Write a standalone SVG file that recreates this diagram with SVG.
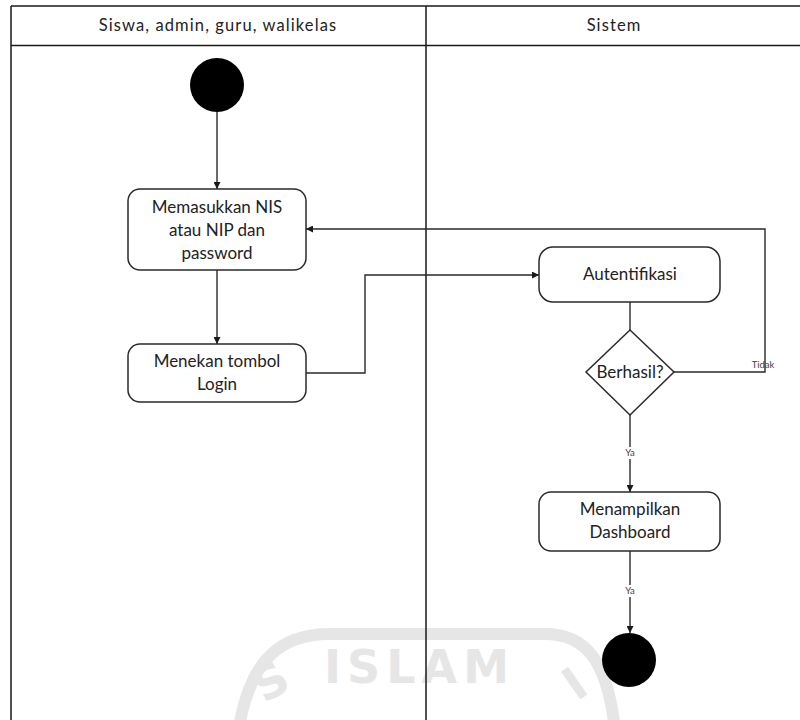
<svg xmlns="http://www.w3.org/2000/svg" width="800" height="720" viewBox="0 0 800 720">
<style>
  .lane { fill: none; stroke: #1a1a1a; stroke-width: 1.5; }
  .node { fill: #ffffff; stroke: #2a2a2a; stroke-width: 1.5; }
  .dot { fill: #000000; }
  .edge { fill: none; stroke: #2a2a2a; stroke-width: 1.4; }
  .t { font-family: Lato, "Open Sans", sans-serif; font-size: 17px; fill: #222; text-anchor: middle; }
  .h { font-family: Lato, "Open Sans", sans-serif; font-size: 16.5px; letter-spacing: 1.1px; fill: #222; text-anchor: middle; }
  .lbl { font-family: Lato, "Open Sans", sans-serif; font-size: 9.5px; fill: #444; text-anchor: middle; }
  .wm { fill: none; stroke: #e6e6e6; stroke-width: 12; }
  .wmt { font-family: "DejaVu Sans", sans-serif; font-weight: bold; font-size: 46px; fill: #e6e6e6; }
</style>
<defs>
  <marker id="arr" viewBox="0 0 10 10" refX="10" refY="5" markerWidth="7" markerHeight="7" orient="auto" markerUnits="userSpaceOnUse">
    <path d="M0,0 L10,5 L0,10 z" fill="#1a1a1a"/>
  </marker>
</defs>
<rect width="800" height="720" fill="#ffffff"/>

<g id="watermark">
  <path class="wm" d="M240,722 C252,660 280,634 330,634 L545,634 C585,634 606,660 614,722"/>
  <text class="wmt" x="324" y="683" letter-spacing="6">ISLAM</text>
  <text class="wmt" x="258" y="700" font-size="32" transform="rotate(-30 268 690)">S</text>
  <text class="wmt" x="570" y="700" font-size="32" transform="rotate(-35 576 690)">I</text>
</g>

<g id="lanes">
  <path class="lane" d="M11,6 H800 M11,45.5 H800 M11,6 V720 M426,6 V720"/>
  <text class="h" x="218" y="31">Siswa, admin, guru, walikelas</text>
  <text class="h" x="614" y="31">Sistem</text>
</g>

<g id="edges">
  <line class="edge" x1="217" y1="112" x2="217" y2="189" marker-end="url(#arr)"/>
  <line class="edge" x1="217" y1="270" x2="217" y2="344" marker-end="url(#arr)"/>
  <polyline class="edge" points="306,373 365,373 365,275 539,275" marker-end="url(#arr)"/>
  <line class="edge" x1="630" y1="302" x2="630" y2="330"/>
  <polyline class="edge" points="674,372 765,372 765,229 306,229" marker-end="url(#arr)"/>
  <line class="edge" x1="630" y1="415" x2="630" y2="492" marker-end="url(#arr)"/>
  <line class="edge" x1="630" y1="551" x2="630" y2="633" marker-end="url(#arr)"/>
  <rect x="621" y="447" width="18" height="12" fill="#ffffff"/>
  <text class="lbl" x="630" y="456">Ya</text>
  <rect x="621" y="585" width="18" height="12" fill="#ffffff"/>
  <text class="lbl" x="630" y="594">Ya</text>
  <text class="lbl" x="763" y="368">Tidak</text>
</g>

<g id="start">
  <circle class="dot" cx="217" cy="85" r="27"/>
</g>

<g id="input">
  <rect class="node" x="128" y="189" width="178" height="81" rx="12"/>
  <text class="t" x="217" y="213">Memasukkan NIS</text>
  <text class="t" x="217" y="236">atau NIP dan</text>
  <text class="t" x="217" y="259">password</text>
</g>

<g id="login">
  <rect class="node" x="128" y="344" width="178" height="58" rx="12"/>
  <text class="t" x="217" y="367">Menekan tombol</text>
  <text class="t" x="217" y="390">Login</text>
</g>

<g id="auth">
  <rect class="node" x="539" y="247" width="181" height="55" rx="14"/>
  <text class="t" x="630" y="280">Autentifikasi</text>
</g>

<g id="decision">
  <polygon class="node" points="630,330 674,372 630,415 586,372"/>
  <text class="t" x="630" y="378">Berhasil?</text>
</g>

<g id="dashboard">
  <rect class="node" x="539" y="492" width="181" height="59" rx="12"/>
  <text class="t" x="630" y="515">Menampilkan</text>
  <text class="t" x="630" y="538">Dashboard</text>
</g>

<g id="end">
  <circle class="dot" cx="629" cy="660" r="27" fill="#1a1a1a"/>
</g>
</svg>
